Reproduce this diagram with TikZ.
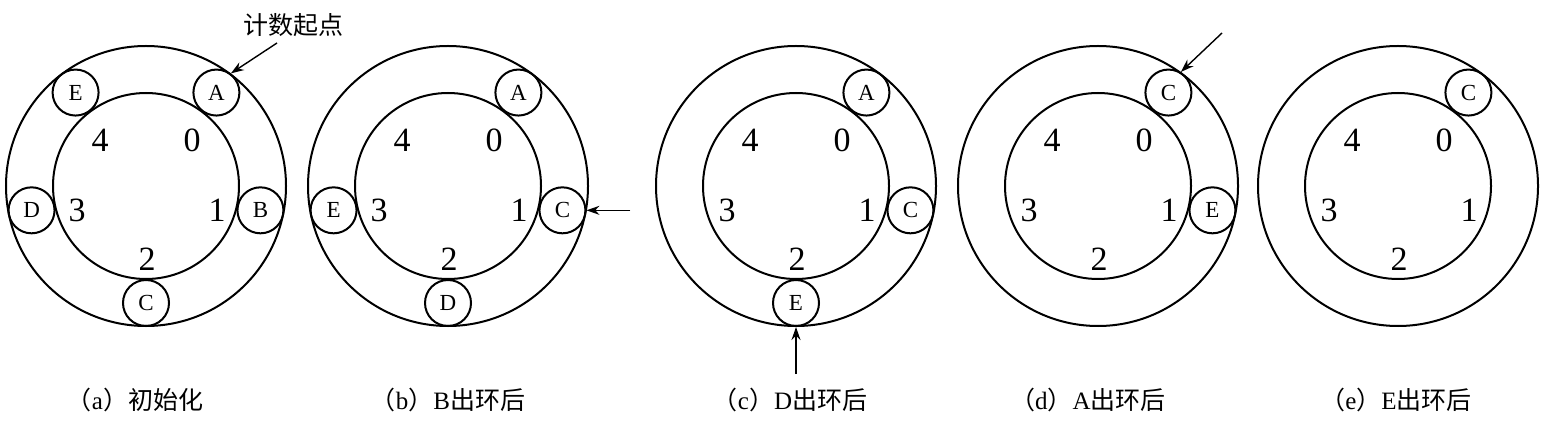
\documentclass[tikz,border=0pt]{standalone}
\usepackage{fontspec}
\setmainfont{Liberation Serif}
\newfontfamily\zhfont{Noto Sans CJK SC}
\usepackage{tikz}
\usetikzlibrary{arrows.meta,calc}

\begin{document}
\begin{tikzpicture}[x=0.5pt,y=0.5pt,
  ring/.style={draw, circle, line width=1pt, inner sep=0pt},
  outerring/.style={ring, minimum size=140pt},
  innerring/.style={ring, minimum size=93pt},
  person/.style={ring, minimum size=23pt, font=\fontsize{11.5}{11.5}\selectfont},
  digit/.style={font=\fontsize{17}{17}\selectfont},
  caption/.style={font=\fontsize{12.5}{12.5}\selectfont},
  pointer/.style={-{Stealth[length=6.5pt,width=4.5pt]}, line width=0.7pt}]
  \useasboundingbox (0,0) rectangle (1546,423);
  % five stages of the ring
  \foreach \p/\cx/\members in {a/146/{A/53,B/-12,C/-90,D/192,E/127},
                               b/448/{A/53,C/-12,D/-90,E/192},
                               c/796/{A/53,C/-12,E/-90},
                               d/1098/{C/53,E/-12},
                               e/1398/{C/53}} {
    \node[outerring] (out\p) at (\cx,237) {};
    \node[innerring] (in\p) at (\cx,237) {};
    \foreach \d/\dx/\dy in {0/46/46,1/71/-24,2/1/-73,3/-69/-24,4/-46/46}
      \node[digit] (n\p\d) at ($(out\p)+(\dx,\dy)$) {\d};
    \foreach \m/\ang in \members
      \node[person] (\m\p) at ($(out\p)+(\ang:117)$) {\m};
  }
  % captions
  \foreach \p/\lx/\txt in {a/135/{{\zhfont （}a{\zhfont ）初始化}},
                           b/448/{{\zhfont （}b{\zhfont ）}B{\zhfont 出环后}},
                           c/790/{{\zhfont （}c{\zhfont ）}D{\zhfont 出环后}},
                           d/1088/{{\zhfont （}d{\zhfont ）}A{\zhfont 出环后}},
                           e/1396/{{\zhfont （}e{\zhfont ）}E{\zhfont 出环后}}}
    \node[caption] (cap\p) at (\lx,23) {\txt};
  % counting pointers
  \node[font=\zhfont\fontsize{12.5}{12.5}\selectfont] (start) at (293,398) {计数起点};
  \coordinate (tailA) at ($(outa)+(131,143)$);
  \draw[pointer] (tailA) -- (outa.53);
  \coordinate (tailB) at ($(Cb.east)+(44,0)$);
  \draw[pointer] (tailB) -- (Cb.east);
  \coordinate (tailC) at ($(Ec.south)+(0,-47)$);
  \draw[pointer] (tailC) -- (Ec.south);
  \coordinate (tailD) at ($(outd)+(124,153)$);
  \draw[pointer] (tailD) -- (outd.54);
\end{tikzpicture}
\end{document}
